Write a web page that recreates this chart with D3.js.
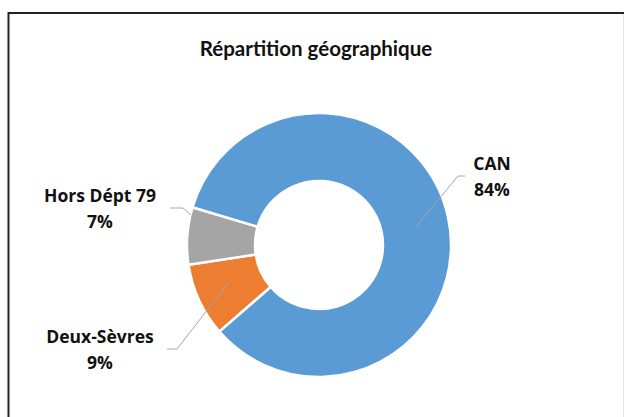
<!DOCTYPE html>
<html><head><meta charset="utf-8">
<script src="https://cdn.jsdelivr.net/npm/d3@7"></script>
<style>body{margin:0;background:#fff;} svg{display:block;}</style>
</head><body>
<svg id="c" width="624" height="417"></svg>
<script>
const categories = ["Deux-Sèvres", "Hors Dépt 79", "CAN"];
const values = [9, 7, 84];
const percentLabels = ["9%", "7%", "84%"];
const colors = ["#ED7D31", "#A5A5A5", "#5B9BD5"];
const title = "Répartition géographique";

const svg = d3.select("#c");
const titleFont = "Lato, 'Open Sans', sans-serif";
const font = "'Open Sans', Lato, sans-serif";

// frame
svg.append("rect").attr("x", 8.5).attr("y", 13).attr("width", 640).attr("height", 430)
  .attr("fill", "none").attr("stroke", "#222").attr("stroke-width", 2);
svg.append("line").attr("x1", 623.5).attr("x2", 623.5).attr("y1", 14).attr("y2", 417)
  .attr("stroke", "#e4e4e4").attr("stroke-width", 1);

svg.append("text").attr("x", 316).attr("y", 56).attr("text-anchor", "middle")
  .attr("font-family", titleFont).attr("font-weight", "bold").attr("font-size", 20.5)
  .attr("fill", "#111").text(title);

const cx = 319, cy = 245, rOut = 132, rIn = 64;
const pie = d3.pie().sort(null).value(d => d)
  .startAngle(229 * Math.PI / 180).endAngle(589 * Math.PI / 180);
const arcs = pie(values);
const arc = d3.arc().innerRadius(rIn).outerRadius(rOut);
const g = svg.append("g").attr("transform", `translate(${cx},${cy})`);
g.selectAll("path").data(arcs).join("path")
  .attr("d", arc).attr("fill", (d, i) => colors[i])
  .attr("stroke", "#fff").attr("stroke-width", 2.5);

// leader lines (label anchor, elbow, point in slice)
const leaders = [
  [[167, 349], [177, 349], [229, 282]],
  [[170, 208], [183, 208], [191, 215]],
  [[465, 176], [458, 176], [415, 228]]
];
const labelPos = [[100, 343], [100, 202], [492, 170]];
svg.selectAll("polyline.l").data(leaders).join("polyline")
  .attr("points", d => d.map(p => p.join(",")).join(" "))
  .attr("fill", "none").attr("stroke", "#A6A6A6").attr("stroke-width", 1);

labelPos.forEach((p, i) => {
  const t = svg.append("text").attr("text-anchor", "middle")
    .attr("font-family", font).attr("font-weight", "bold").attr("font-size", 17.5)
    .attr("fill", "#111");
  t.append("tspan").attr("x", p[0]).attr("y", p[1]).text(categories[i]);
  t.append("tspan").attr("x", p[0]).attr("y", p[1] + 26).text(percentLabels[i]);
});
</script>
</body></html>
